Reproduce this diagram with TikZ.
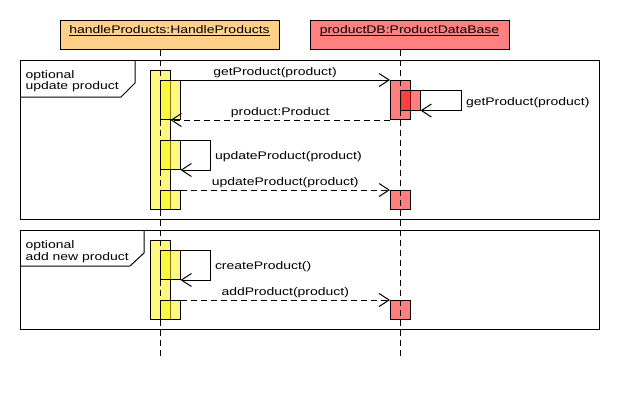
\documentclass[tikz,border=0pt]{standalone}
\usepackage{fontspec}
\setmainfont{Liberation Sans}[FakeStretch=1.27]
\usetikzlibrary{arrows.meta}
\definecolor{headorange}{RGB}{255,208,136}
\definecolor{headred}{RGB}{255,128,128}
\begin{document}
\begin{tikzpicture}[x=1pt,y=-1pt,line width=1pt,
    font=\fontsize{11}{11.3}\selectfont,
    head/.style={draw,minimum height=29pt,inner sep=0pt},
    bar/.style={draw,fill opacity=0.5,inner sep=0pt,anchor=north west,minimum width=19.5pt},
    lifeline/.style={dash pattern=on 6pt off 4pt},
    msg/.style={-{Straight Barb[length=10pt,width=13pt]}},
    reply/.style={msg,dash pattern=on 6pt off 4pt},
    lbl/.style={midway,above,inner sep=1.5pt},
    selflbl/.style={pos=0.25,right,inner sep=4pt,yshift=-2pt},
    framelbl/.style={anchor=north west,align=left,inner sep=0pt}]
  \useasboundingbox (0,0) rectangle (620,400);
  \node[head,fill=headorange,minimum width=219pt] (hp) at (169.5,34.5) {\underline{\smash{handleProducts:HandleProducts}}};
  \node[head,fill=headred,minimum width=199pt] (db) at (409.5,34.5) {\underline{\smash{productDB:ProductDataBase}}};
  \coordinate (hpend) at (160,357);
  \coordinate (dbend) at (400,357);

  % optional: update product
  \draw (20,60) rectangle (599,219);
  \draw (20,97) -- (121,97) -- (135,83) -- (135,60);
  \node[framelbl] (opt1) at (25,70) {optional\\update product};
  \node[bar,fill=yellow,minimum height=139pt] (a1) at (150,70) {};
  \node[bar,fill=yellow,minimum height=39pt] (n1) at (160,80) {};
  \node[bar,fill=yellow,minimum height=29pt] (n2) at (160,140) {};
  \node[bar,fill=yellow,minimum height=19pt] (n3) at (160,190) {};
  \node[bar,fill=red,minimum height=39pt] (d1) at (390,80) {};
  \node[bar,fill=red,minimum height=19.5pt] (dn) at (400,90) {};
  \node[bar,fill=red,minimum height=19pt] (d2) at (390,190) {};

  % optional: add new product
  \draw (20,230) rectangle (599,329);
  \draw (20,266) -- (130,266) -- (144,253) -- (144,230);
  \node[framelbl] (opt2) at (25,240.3) {optional\\add new product};
  \node[bar,fill=yellow,minimum height=79pt] (a2) at (150,240) {};
  \node[bar,fill=yellow,minimum height=29pt] (m1) at (160,250) {};
  \node[bar,fill=yellow,minimum height=19pt] (m2) at (160,300) {};
  \node[bar,fill=red,minimum height=19pt] (d3) at (390,300) {};

  \draw[lifeline] (hpend |- hp.south) -- (hpend);
  \draw[lifeline] (dbend |- db.south) -- (dbend);

  \draw[msg] (n1.north west) -- node[lbl]{getProduct(product)} (d1.north west);
  \draw[msg] (dn.north east) -- ++(41,0) |- node[selflbl]{getProduct(product)} (dn.south east);
  \draw[reply] (d1.south west) -- node[lbl]{product:Product} (d1.south west -| a1.east);
  \draw[msg] (n2.north east) -- ++(30,0) |- node[selflbl]{updateProduct(product)} (n2.south east);
  \draw[reply] (n3.north east) -- node[lbl]{updateProduct(product)} (d2.north west);
  \draw[msg] (m1.north east) -- ++(30,0) |- node[selflbl]{createProduct()} (m1.south east);
  \draw[reply] (m2.north east) -- node[lbl]{addProduct(product)} (d3.north west);
\end{tikzpicture}
\end{document}
